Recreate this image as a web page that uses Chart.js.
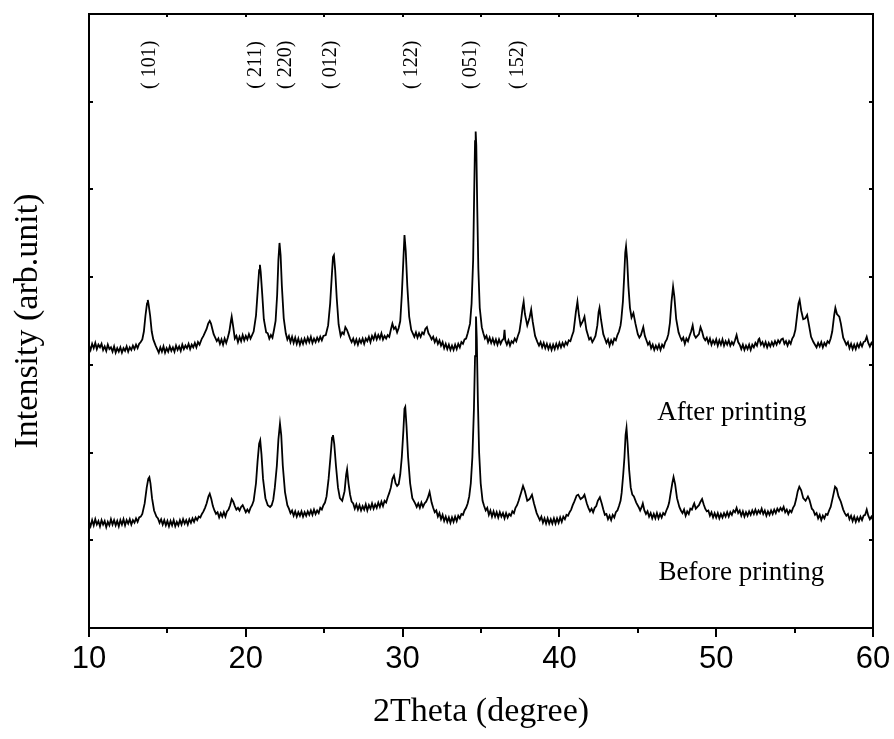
<!DOCTYPE html>
<html>
<head>
<meta charset="utf-8">
<script src="https://cdn.jsdelivr.net/npm/chart.js@4.4.1/dist/chart.umd.min.js"></script>
<style>
  html, body { margin: 0; padding: 0; background: #fff; }
  #wrap { width: 894px; height: 739px; }
</style>
</head>
<body>
<div id="wrap"><canvas id="xrd" width="894" height="739"></canvas></div>
<script>
// XRD patterns, [2theta, intensity]
const afterPrinting = [
  [10.0,3220],[10.1,3170],[10.2,3240],[10.3,3190],[10.4,3250],[10.5,3180],[10.6,3230],[10.7,3200],[10.8,3240],[10.9,3170],
  [11.0,3210],[11.1,3160],[11.2,3230],[11.3,3180],[11.4,3200],[11.5,3150],[11.6,3210],[11.7,3140],[11.8,3190],[11.9,3150],
  [12.0,3200],[12.1,3140],[12.2,3190],[12.3,3160],[12.4,3210],[12.5,3150],[12.6,3200],[12.7,3170],[12.8,3220],[12.9,3180],
  [13.0,3230],[13.1,3190],[13.2,3240],[13.3,3260],
  [13.4,3290],[13.5,3380],[13.6,3560],[13.7,3700],[13.75,3740],[13.8,3690],[13.9,3560],[14.0,3380],[14.1,3290],[14.25,3220],
  [14.35,3180],[14.45,3140],[14.55,3200],[14.65,3150],[14.75,3210],[14.85,3140],[14.95,3190],[15.05,3150],[15.15,3210],[15.25,3160],
  [15.35,3200],[15.45,3150],[15.55,3220],[15.65,3170],[15.75,3210],[15.85,3160],[15.95,3230],[16.05,3180],[16.15,3220],[16.25,3190],
  [16.35,3240],[16.45,3180],[16.55,3230],[16.65,3200],[16.75,3250],[16.85,3200],[16.95,3260],[17.05,3230],
  [17.2,3300],[17.3,3330],[17.4,3370],[17.5,3410],[17.6,3470],[17.7,3500],[17.78,3470],[17.85,3420],[17.95,3350],[18.05,3310],
  [18.15,3270],[18.25,3300],[18.35,3240],[18.45,3290],[18.55,3230],[18.65,3300],[18.75,3250],[18.85,3310],[18.95,3380],
  [19.05,3500],[19.1,3550],[19.2,3430],[19.3,3300],[19.4,3330],[19.5,3260],[19.6,3320],[19.7,3270],[19.8,3340],[19.9,3280],
  [20.0,3330],[20.1,3290],[20.2,3350],[20.3,3300],[20.4,3340],
  [20.5,3380],[20.65,3560],[20.75,3820],[20.85,4080],[20.9,4140],[20.95,4060],[21.05,3800],[21.15,3520],[21.3,3370],
  [21.4,3360],[21.5,3300],[21.6,3340],[21.7,3310],[21.8,3400],
  [21.9,3500],[22.0,3800],[22.08,4200],[22.15,4390],[22.22,4250],[22.3,3900],[22.42,3530],[22.55,3360],
  [22.65,3290],[22.75,3330],[22.85,3260],[22.95,3320],[23.05,3250],[23.15,3310],[23.25,3240],[23.35,3300],[23.45,3230],[23.55,3290],
  [23.65,3240],[23.75,3300],[23.85,3250],[23.95,3310],[24.05,3260],[24.15,3320],[24.25,3250],[24.35,3300],[24.45,3260],[24.55,3310],
  [24.65,3270],[24.75,3320],[24.85,3280],[24.95,3330],
  [25.1,3340],[25.25,3450],[25.38,3700],[25.48,4000],[25.56,4230],[25.62,4250],[25.7,4080],[25.8,3760],[25.92,3460],[26.05,3330],
  [26.15,3370],[26.25,3350],[26.35,3430],[26.45,3400],[26.55,3350],[26.65,3300],[26.75,3260],[26.85,3300],[26.95,3240],[27.05,3290],
  [27.15,3230],[27.25,3290],[27.35,3250],[27.45,3300],[27.55,3240],[27.65,3300],[27.75,3270],[27.85,3320],[27.95,3260],[28.05,3330],
  [28.15,3290],[28.25,3350],[28.35,3290],[28.45,3340],[28.55,3300],[28.65,3360],[28.75,3290],[28.85,3330],[28.95,3300],[29.05,3340],
  [29.15,3320],[29.25,3400],[29.35,3470],[29.45,3410],[29.55,3430],[29.65,3370],[29.75,3420],
  [29.85,3500],[29.95,3800],[30.05,4200],[30.12,4480],[30.2,4300],[30.3,3900],[30.42,3550],[30.55,3400],
  [30.65,3360],[30.75,3320],[30.85,3370],[30.95,3310],[31.05,3360],[31.15,3320],[31.25,3370],[31.35,3350],[31.45,3410],[31.55,3430],
  [31.65,3360],[31.75,3330],[31.85,3290],[31.95,3320],[32.05,3260],[32.15,3300],[32.25,3240],[32.35,3280],[32.45,3220],[32.55,3260],
  [32.65,3190],[32.75,3240],[32.85,3180],[32.95,3230],[33.05,3170],[33.15,3220],[33.25,3170],[33.35,3230],[33.45,3180],[33.55,3240],
  [33.65,3200],[33.75,3260],[33.85,3240],[33.95,3290],[34.05,3300],[34.15,3360],[34.3,3470],
  [34.4,3700],[34.5,4200],[34.56,4900],[34.62,5550],[34.66,5660],[34.7,5500],[34.76,4800],[34.83,4100],[34.92,3650],[35.05,3430],
  [35.15,3360],[35.25,3300],[35.35,3330],[35.45,3260],[35.55,3310],[35.65,3250],[35.75,3300],[35.85,3240],[35.95,3290],[36.05,3230],
  [36.15,3290],[36.25,3240],[36.35,3280],[36.45,3300],[36.5,3400],[36.55,3280],[36.65,3230],[36.75,3280],[36.85,3220],[36.95,3270],
  [37.05,3250],[37.15,3300],[37.25,3270],[37.35,3330],[37.45,3380],[37.55,3500],
  [37.65,3650],[37.72,3720],[37.8,3580],[37.95,3450],[38.1,3540],[38.2,3630],[38.3,3490],[38.45,3330],[38.6,3260],
  [38.7,3220],[38.8,3260],[38.9,3200],[39.0,3250],[39.1,3190],[39.2,3240],[39.3,3180],[39.4,3230],[39.5,3170],[39.6,3230],
  [39.7,3180],[39.8,3240],[39.9,3190],[40.0,3250],[40.1,3200],[40.2,3250],[40.3,3210],[40.4,3260],[40.5,3230],[40.6,3280],
  [40.7,3270],[40.8,3330],[40.9,3380],[40.95,3450],
  [41.05,3600],[41.15,3720],[41.25,3560],[41.35,3450],[41.5,3500],[41.6,3550],[41.72,3400],[41.9,3290],[42.0,3310],[42.1,3260],
  [42.2,3290],[42.3,3330],[42.42,3450],[42.5,3600],[42.56,3650],[42.65,3520],[42.8,3350],
  [42.9,3300],[43.0,3250],[43.1,3290],[43.2,3220],[43.3,3280],[43.4,3240],[43.5,3300],[43.6,3280],[43.7,3340],[43.8,3380],
  [43.9,3450],[43.95,3520],
  [44.05,3720],[44.13,4000],[44.2,4280],[44.25,4350],[44.32,4200],[44.4,3900],[44.5,3650],[44.6,3540],[44.72,3590],[44.85,3470],
  [45.0,3350],[45.1,3310],[45.2,3340],[45.3,3400],[45.35,3430],[45.45,3330],[45.55,3280],[45.65,3230],[45.75,3260],[45.85,3190],
  [45.95,3230],[46.05,3170],[46.15,3220],[46.25,3180],[46.35,3230],[46.45,3170],[46.55,3230],[46.65,3200],[46.75,3260],[46.85,3290],
  [46.95,3350],[47.05,3480],
  [47.15,3720],[47.25,3890],[47.33,3780],[47.45,3520],[47.6,3370],[47.7,3320],[47.8,3280],[47.9,3310],[48.0,3240],[48.1,3300],
  [48.2,3270],[48.3,3330],[48.4,3380],[48.5,3450],[48.6,3340],[48.7,3310],[48.8,3330],[48.9,3350],[49.0,3430],[49.1,3380],
  [49.2,3310],[49.3,3280],[49.4,3310],[49.5,3250],[49.6,3300],[49.7,3230],[49.8,3280],[49.9,3240],[50.0,3290],[50.1,3220],
  [50.2,3280],[50.3,3230],[50.4,3290],[50.5,3220],[50.6,3270],[50.7,3230],[50.8,3280],[50.9,3220],[51.0,3260],[51.1,3230],
  [51.2,3280],[51.3,3340],[51.4,3260],[51.5,3230],[51.6,3180],[51.7,3230],[51.8,3170],[51.9,3220],[52.0,3180],[52.1,3230],
  [52.2,3170],[52.3,3230],[52.4,3200],[52.5,3250],[52.6,3220],[52.7,3290],[52.75,3300],[52.85,3230],[52.95,3260],[53.05,3210],
  [53.15,3260],[53.25,3200],[53.35,3250],[53.45,3210],[53.55,3260],[53.65,3220],[53.75,3270],[53.85,3230],[53.95,3280],[54.05,3250],
  [54.15,3290],[54.25,3300],[54.35,3240],[54.45,3270],[54.55,3220],[54.65,3270],[54.75,3240],[54.85,3300],[54.95,3330],[55.05,3400],
  [55.15,3550],
  [55.25,3700],[55.32,3740],[55.42,3620],[55.55,3520],[55.68,3530],[55.8,3570],[55.92,3450],[56.05,3320],[56.2,3260],
  [56.3,3230],[56.4,3200],[56.5,3250],[56.6,3210],[56.7,3260],[56.8,3200],[56.9,3250],[57.0,3220],[57.1,3270],[57.2,3250],
  [57.3,3300],[57.4,3380],[57.52,3560],
  [57.6,3650],[57.7,3580],[57.85,3550],[57.95,3470],[58.1,3310],[58.2,3270],[58.3,3230],[58.4,3260],[58.5,3190],[58.6,3240],
  [58.7,3180],[58.8,3230],[58.9,3180],[59.0,3240],[59.1,3200],[59.2,3250],[59.3,3210],[59.4,3260],[59.5,3270],[59.6,3320],
  [59.7,3250],[59.8,3210],[59.9,3250],[60.0,3220]
];

const beforePrinting = [
  [10.0,1210],[10.1,1160],[10.2,1230],[10.3,1170],[10.4,1240],[10.5,1180],[10.6,1220],[10.7,1160],[10.8,1230],[10.9,1180],
  [11.0,1220],[11.1,1150],[11.2,1210],[11.3,1170],[11.4,1240],[11.5,1180],[11.6,1230],[11.7,1170],[11.8,1220],[11.9,1160],
  [12.0,1230],[12.1,1180],[12.2,1240],[12.3,1170],[12.4,1230],[12.5,1190],[12.6,1240],[12.7,1180],[12.8,1230],[12.9,1200],
  [13.0,1250],[13.1,1210],[13.2,1260],[13.3,1270],
  [13.4,1300],[13.55,1420],[13.68,1600],[13.78,1700],[13.85,1720],[13.92,1650],[14.02,1480],[14.15,1340],[14.3,1270],
  [14.4,1250],[14.5,1200],[14.6,1240],[14.7,1180],[14.8,1230],[14.9,1170],[15.0,1220],[15.1,1160],[15.2,1220],[15.3,1170],
  [15.4,1230],[15.5,1160],[15.6,1210],[15.7,1170],[15.8,1230],[15.9,1180],[16.0,1240],[16.1,1190],[16.2,1230],[16.3,1180],
  [16.4,1240],[16.5,1200],[16.6,1250],[16.7,1210],[16.8,1260],[16.9,1230],[17.0,1270],[17.1,1260],[17.2,1300],[17.3,1330],
  [17.4,1370],
  [17.5,1420],[17.62,1500],[17.7,1530],[17.8,1470],[17.9,1390],[18.0,1340],[18.1,1300],[18.2,1320],[18.3,1260],[18.4,1310],
  [18.5,1270],[18.6,1320],[18.7,1270],[18.8,1330],[18.9,1350],[19.0,1400],[19.1,1470],[19.2,1440],[19.3,1390],[19.4,1350],
  [19.5,1370],[19.6,1340],[19.7,1380],[19.8,1400],[19.9,1360],[20.0,1320],[20.1,1350],[20.2,1320],[20.3,1370],[20.4,1400],
  [20.5,1450],
  [20.65,1650],[20.75,1900],[20.85,2100],[20.92,2140],[21.0,1980],[21.1,1700],[21.25,1480],[21.4,1400],[21.55,1380],
  [21.65,1400],[21.75,1460],
  [21.85,1600],[21.98,1850],[22.08,2150],[22.18,2330],[22.26,2200],[22.36,1850],[22.5,1550],[22.65,1400],
  [22.75,1360],[22.85,1310],[22.95,1340],[23.05,1280],[23.15,1330],[23.25,1270],[23.35,1320],[23.45,1280],[23.55,1330],[23.65,1270],
  [23.75,1320],[23.85,1280],[23.95,1330],[24.05,1290],[24.15,1340],[24.25,1290],[24.35,1350],[24.45,1300],[24.55,1340],[24.65,1310],
  [24.75,1370],[24.85,1350],[24.95,1400],[25.05,1430],
  [25.15,1500],[25.28,1700],[25.4,1950],[25.5,2170],[25.56,2200],[25.64,2100],[25.75,1850],[25.88,1600],[26.0,1480],[26.15,1450],
  [26.3,1560],[26.4,1750],[26.46,1810],[26.55,1650],[26.65,1520],[26.75,1440],[26.85,1420],[26.95,1360],[27.05,1410],[27.15,1350],
  [27.25,1400],[27.35,1340],[27.45,1390],[27.55,1350],[27.65,1410],[27.75,1340],[27.85,1400],[27.95,1360],[28.05,1420],[28.15,1360],
  [28.25,1410],[28.35,1370],[28.45,1430],[28.55,1380],[28.65,1440],[28.75,1390],[28.85,1450],[28.95,1430],[29.05,1490],[29.15,1540],
  [29.25,1600],[29.35,1700],[29.45,1740],[29.55,1650],[29.65,1620],[29.75,1640],[29.85,1750],
  [29.95,1950],[30.05,2250],[30.12,2500],[30.17,2520],[30.25,2300],[30.35,1950],[30.48,1650],[30.62,1480],[30.8,1420],
  [30.9,1380],[31.0,1420],[31.1,1370],[31.2,1430],[31.3,1380],[31.4,1420],[31.5,1440],[31.6,1480],[31.72,1550],[31.85,1430],
  [31.95,1370],[32.05,1320],[32.15,1340],[32.25,1270],[32.35,1310],[32.45,1240],[32.55,1290],[32.65,1220],[32.75,1270],[32.85,1210],
  [32.95,1260],[33.05,1200],[33.15,1260],[33.25,1210],[33.35,1270],[33.45,1220],[33.55,1280],[33.65,1250],[33.75,1300],[33.85,1290],
  [33.95,1340],[34.05,1370],[34.15,1420],[34.25,1500],
  [34.35,1650],[34.45,1950],[34.55,2500],[34.62,3100],[34.68,3550],[34.73,3300],[34.8,2600],[34.88,2000],[34.98,1650],[35.1,1450],
  [35.2,1390],[35.3,1340],[35.4,1370],[35.5,1290],[35.6,1340],[35.7,1270],[35.8,1330],[35.9,1270],[36.0,1320],[36.1,1260],
  [36.2,1320],[36.3,1270],[36.4,1310],[36.5,1250],[36.6,1310],[36.7,1260],[36.8,1300],[36.9,1280],[37.0,1330],[37.1,1310],
  [37.2,1370],[37.3,1400],[37.4,1450],[37.55,1540],
  [37.68,1620],[37.8,1560],[37.95,1450],[38.1,1470],[38.25,1520],[38.38,1420],[38.55,1310],
  [38.65,1270],[38.75,1230],[38.85,1270],[38.95,1200],[39.05,1250],[39.15,1190],[39.25,1250],[39.35,1190],[39.45,1240],[39.55,1190],
  [39.65,1250],[39.75,1190],[39.85,1250],[39.95,1200],[40.05,1260],[40.15,1210],[40.25,1270],[40.35,1240],[40.45,1290],[40.55,1280],
  [40.65,1320],[40.75,1350],[40.85,1400],[40.95,1440],
  [41.1,1510],[41.2,1520],[41.35,1470],[41.5,1490],[41.6,1520],[41.75,1420],[41.85,1370],[41.95,1330],[42.05,1360],[42.15,1320],
  [42.25,1370],[42.35,1390],[42.45,1450],[42.58,1490],[42.7,1420],[42.8,1350],[42.9,1290],[43.0,1300],[43.1,1240],[43.2,1280],
  [43.3,1230],[43.4,1290],[43.5,1260],[43.6,1320],[43.7,1340],[43.8,1390],[43.9,1450],[43.97,1540],
  [44.07,1750],[44.15,1950],[44.22,2200],[44.28,2280],[44.35,2100],[44.45,1800],[44.55,1600],[44.65,1520],[44.75,1500],[44.9,1430],
  [45.05,1380],[45.15,1340],[45.25,1380],[45.32,1420],[45.42,1340],[45.52,1300],[45.62,1330],[45.72,1270],[45.82,1310],[45.92,1250],
  [46.02,1300],[46.12,1250],[46.22,1310],[46.32,1250],[46.42,1300],[46.52,1260],[46.62,1310],[46.72,1290],[46.82,1340],[46.92,1380],
  [47.0,1430],[47.08,1520],
  [47.2,1650],[47.28,1720],[47.38,1640],[47.5,1480],[47.65,1380],[47.75,1340],[47.85,1310],[47.95,1350],[48.05,1280],[48.15,1330],
  [48.25,1300],[48.35,1360],[48.45,1350],[48.55,1400],[48.6,1420],[48.7,1360],[48.8,1380],[48.9,1400],[49.0,1440],[49.1,1470],
  [49.2,1410],[49.3,1360],[49.4,1330],[49.5,1340],[49.6,1280],[49.7,1320],[49.8,1260],[49.9,1310],[50.0,1260],[50.1,1310],
  [50.2,1250],[50.3,1300],[50.4,1260],[50.5,1310],[50.6,1270],[50.7,1320],[50.8,1270],[50.9,1320],[51.0,1290],[51.1,1340],
  [51.2,1320],[51.3,1370],[51.4,1310],[51.5,1340],[51.6,1280],[51.7,1330],[51.8,1270],[51.9,1320],[52.0,1280],[52.1,1330],
  [52.2,1290],[52.3,1340],[52.4,1300],[52.5,1350],[52.6,1300],[52.7,1340],[52.8,1310],[52.9,1360],[53.0,1300],[53.1,1340],
  [53.2,1280],[53.3,1330],[53.4,1290],[53.5,1340],[53.6,1300],[53.7,1350],[53.8,1310],[53.9,1360],[54.0,1330],[54.1,1370],
  [54.2,1340],[54.3,1380],[54.4,1320],[54.5,1350],[54.6,1300],[54.7,1340],[54.8,1320],[54.9,1370],[55.0,1400],[55.1,1470],
  [55.2,1560],
  [55.3,1610],[55.42,1570],[55.55,1480],[55.7,1450],[55.85,1500],[55.95,1460],[56.1,1360],
  [56.2,1340],[56.3,1290],[56.4,1310],[56.5,1250],[56.6,1290],[56.7,1230],[56.8,1280],[56.9,1250],[57.0,1300],[57.1,1290],
  [57.2,1340],[57.3,1380],[57.45,1500],
  [57.58,1610],[57.68,1590],[57.8,1500],[57.95,1440],[58.1,1350],[58.2,1310],[58.3,1280],[58.4,1300],[58.5,1240],[58.6,1280],
  [58.7,1220],[58.8,1270],[58.9,1210],[59.0,1260],[59.1,1220],[59.2,1270],[59.3,1230],[59.4,1280],[59.5,1290],[59.6,1350],
  [59.7,1280],[59.8,1240],[59.9,1270],[60.0,1230]
];

// (hkl) reflections marked above the patterns
const peakLabels = ['( 101)', '( 211)', '( 220)', '( 012)', '( 122)', '( 051)', '( 152)'];
const peakAngles = [13.9, 20.65, 22.55, 25.4, 30.6, 34.36, 37.36];
const peakLabelLevel = 6420;

// text placed under each pattern
const seriesNames = ['After printing', 'Before printing'];
const seriesNameAngles = [51.0, 51.6];
const seriesNameLevels = [2450, 630];

const serif = "'Liberation Serif', 'Times New Roman', serif";

// box, inward/outward ticks and the text inside the plot
const framePlugin = {
  id: 'frame',
  afterDraw(chart) {
    const { ctx, chartArea: a, scales: { x, y } } = chart;
    ctx.save();
    ctx.strokeStyle = '#000';
    ctx.lineWidth = 2;
    ctx.strokeRect(a.left, a.top, a.right - a.left, a.bottom - a.top);

    ctx.beginPath();
    x.ticks.forEach(t => {
      const px = Math.round(x.getPixelForValue(t.value));
      const len = t.value % 10 === 0 ? 9 : 5;
      ctx.moveTo(px, a.bottom);
      ctx.lineTo(px, a.bottom + len);
      ctx.moveTo(px, a.top);
      ctx.lineTo(px, a.top + 3);
    });
    y.ticks.forEach(t => {
      if (t.value <= y.min || t.value >= y.max) return;
      const py = Math.round(y.getPixelForValue(t.value));
      ctx.moveTo(a.left, py);
      ctx.lineTo(a.left + 4, py);
      ctx.moveTo(a.right, py);
      ctx.lineTo(a.right - 4, py);
    });
    ctx.stroke();

    ctx.fillStyle = '#000';
    ctx.font = '20px ' + serif;
    ctx.textAlign = 'center';
    ctx.textBaseline = 'middle';
    peakLabels.forEach((lab, i) => {
      ctx.save();
      ctx.translate(x.getPixelForValue(peakAngles[i]), y.getPixelForValue(peakLabelLevel));
      ctx.rotate(-Math.PI / 2);
      ctx.fillText(lab, 0, 0);
      ctx.restore();
    });

    ctx.font = '27px ' + serif;
    seriesNames.forEach((name, i) => {
      ctx.fillText(name, x.getPixelForValue(seriesNameAngles[i]), y.getPixelForValue(seriesNameLevels[i]));
    });
    ctx.restore();
  }
};

new Chart(document.getElementById('xrd'), {
  type: 'line',
  data: {
    datasets: [
      { label: 'After printing', data: afterPrinting },
      { label: 'Before printing', data: beforePrinting }
    ]
  },
  options: {
    responsive: false,
    animation: false,
    devicePixelRatio: 1,
    layout: { padding: { top: 14, right: 21, left: 0, bottom: 0 } },
    elements: {
      line: { borderColor: '#000', borderWidth: 1.8, tension: 0 },
      point: { radius: 0 }
    },
    plugins: { legend: { display: false }, tooltip: { enabled: false } },
    scales: {
      x: {
        type: 'linear',
        min: 10,
        max: 60,
        afterFit: s => { s.height = 111; s.paddingLeft = 0; s.paddingRight = 0; },
        border: { display: false },
        grid: { display: false, drawTicks: false },
        ticks: {
          stepSize: 5,
          autoSkip: false,
          maxRotation: 0,
          padding: 13,
          color: '#000',
          font: { family: "'Liberation Sans', Arial, sans-serif", size: 31 },
          callback: v => (v % 10 === 0 ? v : '')
        },
        title: {
          display: true,
          text: '2Theta (degree)',
          color: '#000',
          font: { family: serif, size: 34 },
          padding: { top: 0, bottom: 7 }
        }
      },
      y: {
        min: 0,
        max: 7000,
        afterFit: s => { s.width = 89; },
        border: { display: false },
        grid: { display: false, drawTicks: false },
        ticks: { stepSize: 1000, display: false },
        title: {
          display: true,
          text: 'Intensity (arb.unit)',
          color: '#000',
          font: { family: serif, size: 34 },
          padding: { top: 8, bottom: 0 }
        }
      }
    }
  },
  plugins: [framePlugin]
});
</script>
</body>
</html>
